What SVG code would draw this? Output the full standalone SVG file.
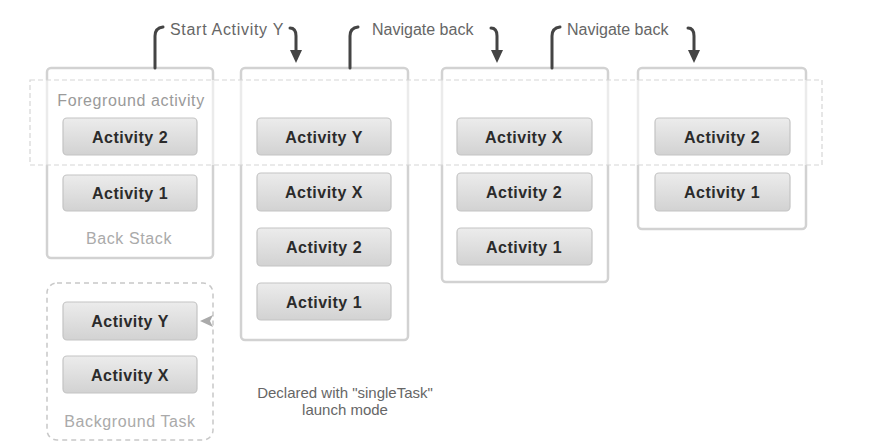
<svg xmlns="http://www.w3.org/2000/svg" width="874" height="446" viewBox="0 0 874 446">
<defs>
<linearGradient id="btn" x1="0" y1="0" x2="0" y2="1">
<stop offset="0" stop-color="#ececec"/>
<stop offset="1" stop-color="#d2d2d2"/>
</linearGradient>
<style>
.box{fill:#fff;stroke:#d2d2d2;stroke-width:2.5}
.btn{fill:url(#btn);stroke:#c4c4c4;stroke-width:1.2}
.bt{font-family:"Liberation Sans",Arial,sans-serif;font-size:16px;font-weight:bold;fill:#2b2b2b;text-anchor:middle;letter-spacing:0.5px}
.lbl{font-family:"Liberation Sans",Arial,sans-serif;font-size:16px;fill:#666}
.soft{font-family:"Liberation Sans",Arial,sans-serif;font-size:16px;fill:#aaa;text-anchor:middle;letter-spacing:0.6px}
.note{font-family:"Liberation Sans",Arial,sans-serif;font-size:15px;fill:#666;text-anchor:middle}
.con{fill:none;stroke:#444;stroke-width:3;stroke-linecap:round}
.head{fill:#444}
</style>
</defs>
<rect width="874" height="446" fill="#fff"/>

<g id="frames">
<rect id="backstack-frame" class="box" x="47" y="68" width="166" height="190" rx="4"/>
<rect id="stack2-frame" class="box" x="241" y="68" width="167" height="272" rx="4"/>
<rect id="stack3-frame" class="box" x="442" y="68" width="166" height="214" rx="4"/>
<rect id="stack4-frame" class="box" x="638" y="68" width="168" height="161" rx="4"/>
</g>

<g id="foreground-band">
<rect x="30" y="80" width="792" height="85" fill="#fff" fill-opacity="0.55" stroke="#d6d6d6" stroke-width="1.2" stroke-dasharray="5 3"/>
</g>

<g id="backstack">
<text class="soft" x="131" y="106" style="fill:#9a9a9a">Foreground activity</text>
<rect class="btn" x="63" y="118" width="134" height="37" rx="4"/>
<text class="bt" x="130" y="143">Activity 2</text>
<rect class="btn" x="63" y="175" width="134" height="36" rx="4"/>
<text class="bt" x="130" y="199">Activity 1</text>
<text class="soft" x="129" y="244">Back Stack</text>
</g>

<g id="stack2">
<rect class="btn" x="257" y="118" width="134" height="37" rx="4"/>
<text class="bt" x="324" y="143">Activity Y</text>
<rect class="btn" x="257" y="173" width="134" height="38" rx="4"/>
<text class="bt" x="324" y="198">Activity X</text>
<rect class="btn" x="257" y="228" width="134" height="38" rx="4"/>
<text class="bt" x="324" y="253">Activity 2</text>
<rect class="btn" x="257" y="283" width="134" height="37" rx="4"/>
<text class="bt" x="324" y="308">Activity 1</text>
</g>

<g id="stack3">
<rect class="btn" x="457" y="118" width="135" height="37" rx="4"/>
<text class="bt" x="524" y="143">Activity X</text>
<rect class="btn" x="457" y="173" width="135" height="38" rx="4"/>
<text class="bt" x="524" y="198">Activity 2</text>
<rect class="btn" x="457" y="228" width="135" height="37" rx="4"/>
<text class="bt" x="524" y="253">Activity 1</text>
</g>

<g id="stack4">
<rect class="btn" x="655" y="118" width="135" height="37" rx="4"/>
<text class="bt" x="722" y="143">Activity 2</text>
<rect class="btn" x="655" y="173" width="135" height="38" rx="4"/>
<text class="bt" x="722" y="198">Activity 1</text>
</g>

<g id="background-task">
<rect x="47" y="283" width="166" height="157" rx="10" fill="#fff" stroke="#c8c8c8" stroke-width="1.5" stroke-dasharray="5 4"/>
<rect class="btn" x="63" y="302" width="134" height="38" rx="4"/>
<text class="bt" x="130" y="327">Activity Y</text>
<rect class="btn" x="63" y="356" width="134" height="37" rx="4"/>
<text class="bt" x="130" y="381">Activity X</text>
<text class="soft" x="130" y="427">Background Task</text>
<path d="M200,321 L213,315 L210,321 L213,327 z" fill="#aaa"/>
</g>

<g id="note">
<text class="note" x="345" y="398">Declared with "singleTask"</text>
<text class="note" x="345" y="415">launch mode</text>
</g>

<g id="connectors">
<path class="con" d="M155,68 V36 Q155,28 163,27"/>
<path class="con" d="M290,28 Q296,28 296,36 V52"/>
<path class="head" d="M290,50 L302,50 L296,63 z"/>
<path class="con" d="M350,68 V36 Q350,28 358,27"/>
<path class="con" d="M491,28 Q497,28 497,36 V52"/>
<path class="head" d="M491,50 L503,50 L497,63 z"/>
<path class="con" d="M552,68 V36 Q552,28 560,27"/>
<path class="con" d="M688,28 Q694,28 694,36 V52"/>
<path class="head" d="M688,50 L700,50 L694,63 z"/>
<text class="lbl" x="170" y="35" style="letter-spacing:0.7px">Start Activity Y</text>
<text class="lbl" x="372" y="35">Navigate back</text>
<text class="lbl" x="567" y="35">Navigate back</text>
</g>
</svg>
